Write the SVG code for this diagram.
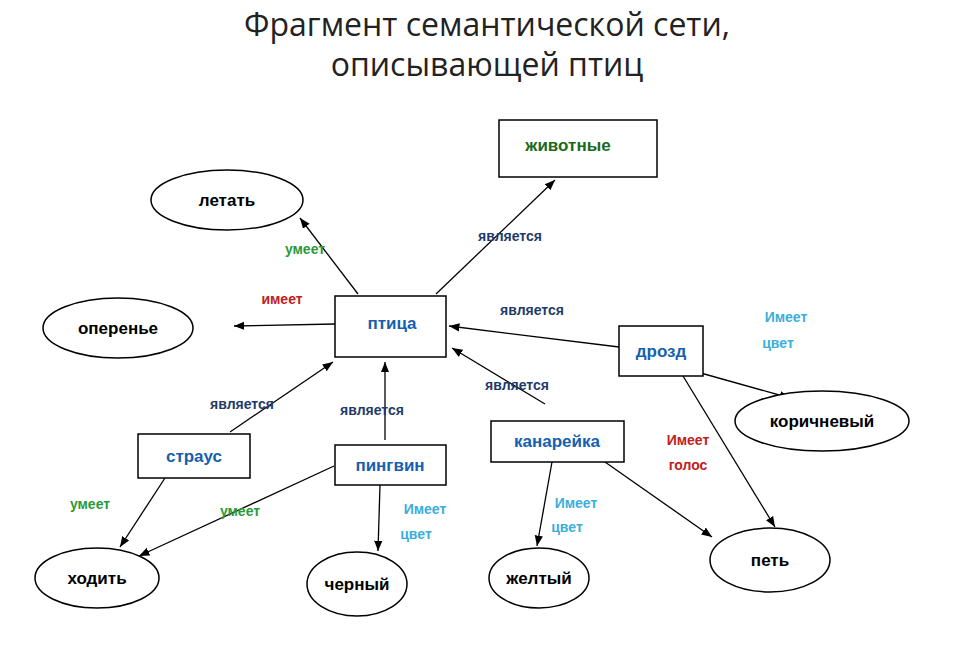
<svg xmlns="http://www.w3.org/2000/svg" width="974" height="659" viewBox="0 0 974 659">
<style>
.t{font-family:"Open Sans","Liberation Sans",sans-serif;font-size:32px;fill:#222;text-anchor:middle}
.n{fill:#fff;stroke:#000;stroke-width:1.5}
.l{font-family:"Liberation Sans",Arial,sans-serif;font-weight:bold;font-size:17px;text-anchor:middle;dominant-baseline:central}
.k{fill:#000}.b{fill:#1560b0}.g{fill:#1a6a1a}
.e{font-family:"Liberation Sans",Arial,sans-serif;font-weight:bold;font-size:14px;text-anchor:middle}
.dv{fill:#1f3a6a}.gr{fill:#2a9a3a}.rd{fill:#c02020}.lb{fill:#3aaedc}
.c line{stroke:#000;stroke-width:1.3;marker-end:url(#a)}
</style>
<defs><marker id="a" viewBox="0 0 10 10" refX="10" refY="5" markerWidth="8" markerHeight="8" orient="auto"><path d="M0,1 L10,5 L0,9 z" fill="#000"/></marker></defs>
<rect width="974" height="659" fill="#fff"/>
<text class="t" x="487" y="36">Фрагмент семантической сети,</text>
<text class="t" x="487" y="76">описывающей птиц</text>
<g class="c">
<line x1="358" y1="294" x2="300" y2="218"/>
<line x1="436" y1="294" x2="555" y2="180"/>
<line x1="335" y1="324" x2="234" y2="326"/>
<line x1="619" y1="347" x2="449" y2="326"/>
<line x1="545" y1="404" x2="452" y2="348"/>
<line x1="230" y1="432" x2="333" y2="362"/>
<line x1="385" y1="440" x2="385" y2="362"/>
<line x1="690" y1="370" x2="790" y2="398"/>
<line x1="683" y1="376" x2="775" y2="527"/>
<line x1="605" y1="462" x2="712" y2="537"/>
<line x1="552" y1="462" x2="537" y2="546"/>
<line x1="165" y1="478" x2="120" y2="547"/>
<line x1="334" y1="466" x2="139" y2="556"/>
<line x1="380" y1="485" x2="378" y2="551"/>
</g>
<g>
<text class="e gr" x="305" y="254">умеет</text>
<text class="e dv" x="510" y="241">является</text>
<text class="e rd" x="282" y="304">имеет</text>
<text class="e dv" x="532" y="315">является</text>
<text class="e dv" x="517" y="390">является</text>
<text class="e dv" x="242" y="409">является</text>
<text class="e dv" x="372" y="415">является</text>
<text class="e lb" x="786" y="322">Имеет</text><text class="e lb" x="778" y="348">цвет</text>
<text class="e rd" x="688" y="445">Имеет</text><text class="e rd" x="688" y="470">голос</text>
<text class="e lb" x="576" y="508">Имеет</text><text class="e lb" x="567" y="532">цвет</text>
<text class="e lb" x="425" y="514">Имеет</text><text class="e lb" x="416" y="539">цвет</text>
<text class="e gr" x="90" y="509">умеет</text>
<text class="e gr" x="240" y="516">умеет</text>
</g>
<g id="zhivotnye"><rect class="n" x="499" y="120" width="158" height="57"/><text class="l g" x="568" y="145">животные</text></g>
<g id="letat"><ellipse class="n" cx="227" cy="200" rx="76" ry="30"/><text class="l k" x="227" y="200">летать</text></g>
<g id="ptitsa"><rect class="n" x="335" y="296" width="111" height="61"/><text class="l b" x="392" y="323">птица</text></g>
<g id="operenie"><ellipse class="n" cx="118" cy="328" rx="75" ry="30"/><text class="l k" x="118" y="328">оперенье</text></g>
<g id="drozd"><rect class="n" x="619" y="326" width="84" height="50"/><text class="l b" x="661" y="351">дрозд</text></g>
<g id="korichnevy"><ellipse class="n" cx="822" cy="421" rx="87" ry="30"/><text class="l k" x="822" y="421">коричневый</text></g>
<g id="straus"><rect class="n" x="138" y="434" width="112" height="44"/><text class="l b" x="194" y="456">страус</text></g>
<g id="pingvin"><rect class="n" x="335" y="445" width="111" height="40"/><text class="l b" x="390" y="465">пингвин</text></g>
<g id="kanareyka"><rect class="n" x="491" y="421" width="133" height="41"/><text class="l b" x="557" y="441">канарейка</text></g>
<g id="khodit"><ellipse class="n" cx="97" cy="578" rx="62" ry="30"/><text class="l k" x="97" y="578">ходить</text></g>
<g id="cherny"><ellipse class="n" cx="357" cy="584" rx="50" ry="32"/><text class="l k" x="357" y="584">черный</text></g>
<g id="zhelty"><ellipse class="n" cx="539" cy="578" rx="50" ry="30"/><text class="l k" x="539" y="578">желтый</text></g>
<g id="pet"><ellipse class="n" cx="770" cy="560" rx="60" ry="32"/><text class="l k" x="770" y="560">петь</text></g>
</svg>
